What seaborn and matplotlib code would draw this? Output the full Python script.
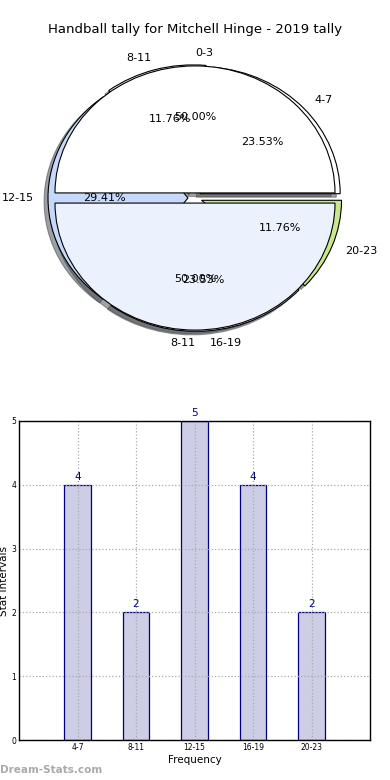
import matplotlib
matplotlib.use("Agg")
import matplotlib.pyplot as plt
import seaborn as sns
import pandas as pd

# Veriler
title = "Handball tally for Mitchell Hinge - 2019 tally"
intervals = ["4-7", "8-11", "12-15", "16-19", "20-23"]
counts = [4, 2, 5, 4, 2]
half_labels = ["0-3", "8-11"]
half_values = [1, 1]
slice_colors = ["#ffffff", "#ebf1fd", "#c6d9fb", "#ebf1fd", "#c8e88a"]

sns.set_style("white")
plt.rcParams["font.family"] = ["DejaVu Sans"]
plt.rcParams["text.color"] = "black"
plt.rcParams["axes.labelcolor"] = "black"
plt.rcParams["xtick.color"] = "black"
plt.rcParams["ytick.color"] = "black"

fig = plt.figure(figsize=(3.9, 7.8), dpi=100)
fig.text(0.5, 1 - 30 / 780, title, ha="center", va="center", fontsize=9.5)

# Pasta grafiği (iki pasta üst üste çizilmiş)
ax1 = fig.add_axes([0, (780 - 348) / 780, 1, 300 / 780])
wedge_style = {"edgecolor": "black", "linewidth": 0.8}
ax1.pie(counts, labels=intervals, colors=slice_colors, explode=[0.05] * len(counts),
        autopct="%1.2f%%", startangle=0, shadow=True, wedgeprops=wedge_style,
        textprops={"fontsize": 8})
wedges, texts, autotexts = ax1.pie(half_values, labels=half_labels, colors=slice_colors[:2],
                                   explode=[0.04, 0.04], autopct="%1.2f%%", startangle=0,
                                   shadow=True, wedgeprops=wedge_style,
                                   textprops={"fontsize": 8})
# eski matplotlib hizalaması
texts[0].set_ha("left")
texts[1].set_ha("right")
ax1.set_aspect("auto")
ax1.set_xlim(-195 / 140, 195 / 140)
ax1.set_ylim(-150 / 127, 150 / 127)
ax1.axis("off")

# Çubuk grafik
ax2 = fig.add_axes([19 / 390, 40 / 780, 351 / 390, 319 / 780])
df = pd.DataFrame({"interval": intervals, "count": counts})
sns.barplot(data=df, x="interval", y="count", ax=ax2, color="#cdcde6", saturation=1,
            width=0.45, edgecolor="#000080", linewidth=0.9)
for i, v in enumerate(counts):
    ax2.text(i, v + 0.05, str(v), ha="center", va="bottom", color="#000080", fontsize=7.5)
ax2.set_xlim(-1, 5)
ax2.set_ylim(0, 5)
ax2.set_yticks(range(6))
ax2.set_axisbelow(False)
ax2.grid(True, linestyle=":", color="#aaaaaa", linewidth=0.9)
ax2.tick_params(axis="both", labelsize=5.5, direction="in", length=3, pad=2)
ax2.set_xlabel("Frequency", fontsize=7.5, labelpad=2)
ax2.set_ylabel("Stat Intervals", fontsize=7.5, labelpad=2)
for s in ax2.spines.values():
    s.set_color("black")
    s.set_linewidth(1)
    s.set_zorder(4)

fig.text(0.0, 1 - 770 / 780, "Dream-Stats.com", ha="left", va="center", fontsize=7.5,
         color="#aaaaaa", fontweight="bold")

plt.savefig("out.png", dpi=100)
